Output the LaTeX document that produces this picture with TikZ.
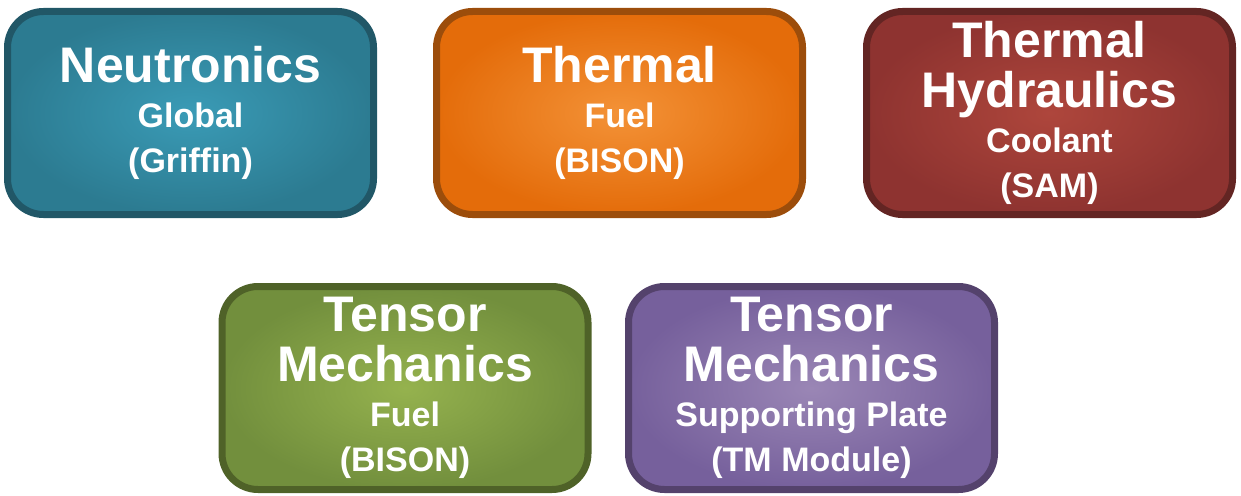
\documentclass[tikz,border=0pt]{standalone}
\usepackage{fontspec}
\setmainfont{Liberation Sans}
\usetikzlibrary{shadings}
\definecolor{bIn}{HTML}{3A9BB6}\definecolor{bOut}{HTML}{2C7B91}\definecolor{bBd}{HTML}{215767}
\definecolor{oIn}{HTML}{F39237}\definecolor{oOut}{HTML}{E46C0A}\definecolor{oBd}{HTML}{9C4D0B}
\definecolor{rIn}{HTML}{AE463C}\definecolor{rOut}{HTML}{8E3330}\definecolor{rBd}{HTML}{632523}
\definecolor{gIn}{HTML}{95B24E}\definecolor{gOut}{HTML}{728F3D}\definecolor{gBd}{HTML}{4F6228}
\definecolor{pIn}{HTML}{9A86B5}\definecolor{pOut}{HTML}{76609C}\definecolor{pBd}{HTML}{54426C}
\newcommand\bigtxt[1]{{\fontsize{50}{50}\selectfont\spaceskip=.28em\relax #1\par}}
\newcommand\smalltxt[1]{{\fontsize{34}{45}\selectfont\spaceskip=.28em\relax #1\par}}
\tikzset{
  card/.style n args={3}{draw=#3, line width=7pt, rounded corners=36pt,
    inner color=#1, outer color=#2, minimum width=366pt, minimum height=203pt,
    inner sep=0pt, text=white, font=\bfseries, text width=360pt, align=center}
}
\begin{document}
\begin{tikzpicture}[x=1pt,y=-1pt]
\useasboundingbox (0,0) rectangle (1241,495);
\node[card={bIn}{bOut}{bBd}] (neut) at (190.5,113) {\bigtxt{Neutronics}\smalltxt{Global}\smalltxt{(Griffin)}};
\node[card={oIn}{oOut}{oBd}] (therm) at (619.5,113) {\bigtxt{Thermal}\smalltxt{Fuel}\smalltxt{(BISON)}};
\node[card={rIn}{rOut}{rBd}] (th) at (1049.5,113) {\bigtxt{Thermal}\bigtxt{Hydraulics}\smalltxt{Coolant}\smalltxt{(SAM)}};
\node[card={gIn}{gOut}{gBd}] (tmf) at (405,388) {\bigtxt{Tensor}\bigtxt{Mechanics}\smalltxt{Fuel}\smalltxt{(BISON)}};
\node[card={pIn}{pOut}{pBd}] (tmp) at (811.5,388) {\bigtxt{Tensor}\bigtxt{Mechanics}\smalltxt{Supporting Plate}\smalltxt{(TM Module)}};
\end{tikzpicture}
\end{document}
